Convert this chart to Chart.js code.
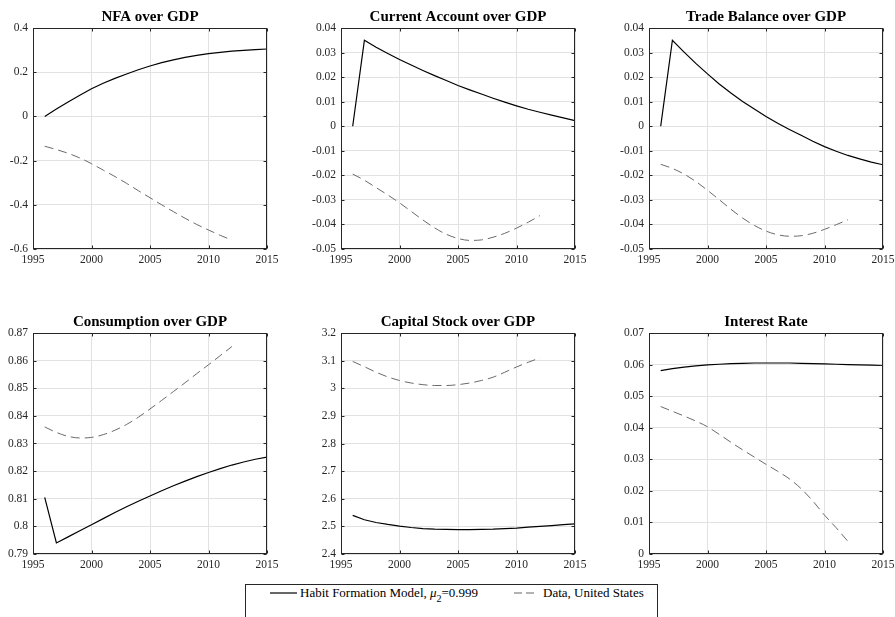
<!DOCTYPE html>
<html>
<head>
<meta charset="utf-8">
<script src="https://cdn.jsdelivr.net/npm/chart.js@4"></script>
<style>
  html, body { margin:0; padding:0; background:#fff; width:895px; height:617px; overflow:hidden; }
  canvas { position:absolute; }
  #legend { position:absolute; left:245px; top:584px; width:411px; height:60px; border:1px solid #262626; background:#fff;
            font-family:'Liberation Serif','Times New Roman',serif; font-size:13px; color:#000; }
  #legend .item { position:absolute; top:0px; white-space:nowrap; line-height:15px; }
  #legend svg { position:absolute; top:7px; }
  #legend sub { font-size:10px; vertical-align:-5px; line-height:0; }
</style>
</head>
<body>
<canvas id="c1" width="287" height="269" style="left:0px;top:0px"></canvas>
<canvas id="c2" width="287" height="269" style="left:308px;top:0px"></canvas>
<canvas id="c3" width="287" height="269" style="left:616px;top:0px"></canvas>
<canvas id="c4" width="287" height="269" style="left:0px;top:305px"></canvas>
<canvas id="c5" width="287" height="269" style="left:308px;top:305px"></canvas>
<canvas id="c6" width="287" height="269" style="left:616px;top:305px"></canvas>
<div id="legend">
  <svg style="left:24px" width="27" height="2"><line x1="0" y1="1" x2="27" y2="1" stroke="#000" stroke-width="1.2"/></svg>
  <span class="item" style="left:54px">Habit Formation Model, <i>μ</i><sub>2</sub>=0.999</span>
  <svg style="left:268px" width="20" height="2"><line x1="0" y1="1" x2="20" y2="1" stroke="#666" stroke-width="1" stroke-dasharray="8,4"/></svg>
  <span class="item" style="left:297px">Data, United States</span>
</div>
<script>
const modelYears = [1996,1997,1998,1999,2000,2001,2002,2003,2004,2005,2006,2007,2008,2009,2010,2011,2012,2013,2014,2015];
const dataYears  = [1996,1997,1998,1999,2000,2001,2002,2003,2004,2005,2006,2007,2008,2009,2010,2011,2012];
const xTicks = [1995, 2000, 2005, 2010, 2015];

const titles = ['NFA over GDP','Current Account over GDP','Trade Balance over GDP','Consumption over GDP','Capital Stock over GDP','Interest Rate'];

const nfaModel = [0.000,0.033,0.065,0.096,0.125,0.150,0.172,0.192,0.211,0.228,0.243,0.256,0.267,0.276,0.284,0.290,0.295,0.299,0.302,0.305];
const nfaData  = [-0.135,-0.150,-0.167,-0.188,-0.214,-0.243,-0.272,-0.303,-0.336,-0.368,-0.400,-0.431,-0.461,-0.489,-0.514,-0.538,-0.560];

const caModel = [0.0000,0.0350,0.0322,0.0296,0.0272,0.0249,0.0227,0.0206,0.0186,0.0166,0.0148,0.0131,0.0114,0.0098,0.0083,0.0069,0.0057,0.0045,0.0034,0.0023];
const caData  = [-0.0195,-0.0220,-0.0250,-0.0280,-0.0312,-0.0347,-0.0382,-0.0414,-0.0440,-0.0457,-0.0465,-0.0463,-0.0452,-0.0436,-0.0415,-0.0391,-0.0364];

const tbModel = [0.0000,0.0350,0.0302,0.0256,0.0213,0.0172,0.0135,0.0101,0.0070,0.0040,0.0012,-0.0013,-0.0037,-0.0061,-0.0083,-0.0102,-0.0119,-0.0133,-0.0146,-0.0157];
const tbData  = [-0.0155,-0.0172,-0.0195,-0.0225,-0.0261,-0.0299,-0.0338,-0.0374,-0.0404,-0.0427,-0.0442,-0.0448,-0.0446,-0.0436,-0.0420,-0.0401,-0.0381];

const cModel = [0.8105,0.7940,0.7962,0.7984,0.8006,0.8028,0.8050,0.8071,0.8091,0.8110,0.8129,0.8147,0.8164,0.8180,0.8195,0.8209,0.8222,0.8233,0.8243,0.8251];
const cData  = [0.8360,0.8340,0.8326,0.8320,0.8322,0.8332,0.8348,0.8369,0.8395,0.8425,0.8456,0.8488,0.8520,0.8553,0.8585,0.8618,0.8651];

const kModel = [2.540,2.524,2.514,2.507,2.501,2.496,2.492,2.490,2.489,2.488,2.488,2.489,2.490,2.492,2.494,2.497,2.500,2.503,2.506,2.509];
const kData  = [3.097,3.078,3.058,3.041,3.028,3.019,3.013,3.010,3.010,3.013,3.019,3.028,3.040,3.058,3.077,3.094,3.110];

const rModel = [0.0581,0.0587,0.0592,0.0596,0.0599,0.0601,0.0603,0.0604,0.0605,0.0605,0.0605,0.0605,0.0604,0.0603,0.0602,0.0601,0.0600,0.0599,0.0598,0.0597];
const rData  = [0.0467,0.0452,0.0437,0.0421,0.0403,0.0379,0.0354,0.0330,0.0307,0.0284,0.0262,0.0238,0.0207,0.0168,0.0123,0.0083,0.0040];

// y-axis ranges [min, max, step]
const yRanges = [[-0.6,0.4,0.2],[-0.05,0.04,0.01],[-0.05,0.04,0.01],[0.79,0.87,0.01],[2.4,3.2,0.1],[0,0.07,0.01]];
const models = [nfaModel, caModel, tbModel, cModel, kModel, rModel];
const datas  = [nfaData, caData, tbData, cData, kData, rData];

const FONT = "'Liberation Serif','Times New Roman',serif";
const AXIS = '#262626';

const boxPlugin = {
  id: 'matlabBox',
  afterDraw(chart, args, opts) {
    const {ctx, chartArea: a, scales: {x, y}} = chart;
    const L = Math.round(a.left) + 0.5, R = Math.round(a.right) - 0.5;
    const T = Math.round(a.top) + 0.5, B = Math.round(a.bottom) - 0.5;
    ctx.save();
    ctx.strokeStyle = AXIS;
    ctx.lineWidth = 1;
    ctx.strokeRect(L, T, R - L, B - T);
    ctx.beginPath();
    x.ticks.forEach(t => {
      const px = Math.round(x.getPixelForValue(t.value)) + 0.5;
      ctx.moveTo(px, B); ctx.lineTo(px, B - 3);
      ctx.moveTo(px, T); ctx.lineTo(px, T + 3);
    });
    y.ticks.forEach(t => {
      const py = Math.round(y.getPixelForValue(t.value)) + 0.5;
      ctx.moveTo(L, py); ctx.lineTo(L + 3, py);
      ctx.moveTo(R, py); ctx.lineTo(R - 3, py);
    });
    ctx.stroke();
    // axes title, centred over the plot area (MATLAB style)
    ctx.fillStyle = '#000';
    ctx.font = "bold 15px " + FONT;
    ctx.textAlign = 'center';
    ctx.textBaseline = 'alphabetic';
    ctx.fillText(opts.text, (a.left + a.right) / 2, a.top - 7);
    ctx.restore();
  }
};

function makeChart(i) {
  const [ymin, ymax, ystep] = yRanges[i];
  const toPts = (years, vals) => years.map((yr, k) => ({x: yr, y: vals[k]}));
  new Chart(document.getElementById('c' + (i + 1)), {
    type: 'line',
    data: {
      datasets: [
        { label: 'Habit Formation Model', data: toPts(modelYears, models[i]), borderColor: '#000', borderWidth: 1.2,
          pointRadius: 0, fill: false, tension: 0 },
        { label: 'Data, United States', data: toPts(dataYears, datas[i]), borderColor: '#6a6a6a', borderWidth: 1,
          borderDash: [9, 5], pointRadius: 0, fill: false, cubicInterpolationMode: 'monotone' }
      ]
    },
    options: {
      responsive: false,
      animation: false,
      devicePixelRatio: 1,
      layout: { padding: { left: 0, right: 20, top: 28, bottom: 0 } },
      plugins: {
        legend: { display: false },
        tooltip: { enabled: false },
        title: { display: false },
        matlabBox: { text: titles[i] }
      },
      scales: {
        x: {
          type: 'linear', min: 1995, max: 2015,
          afterBuildTicks: s => { s.ticks = xTicks.map(v => ({value: v})); },
          afterFit: s => { s.height = 20; },
          grid: { color: '#e2e2e2', drawTicks: false },
          border: { display: false },
          ticks: { autoSkip: false, maxRotation: 0, padding: 4, color: AXIS,
                   font: { family: FONT, size: 11.5 }, callback: v => String(v) }
        },
        y: {
          type: 'linear', min: ymin, max: ymax,
          ticks: { stepSize: ystep, autoSkip: false, padding: 5, color: AXIS,
                   font: { family: FONT, size: 11.5 },
                   callback: v => String(+(+v).toFixed(4)) },
          afterFit: s => { s.width = 33; },
          grid: { color: '#e2e2e2', drawTicks: false },
          border: { display: false }
        }
      }
    },
    plugins: [boxPlugin]
  });
}
for (let i = 0; i < 6; i++) makeChart(i);
</script>
</body>
</html>
